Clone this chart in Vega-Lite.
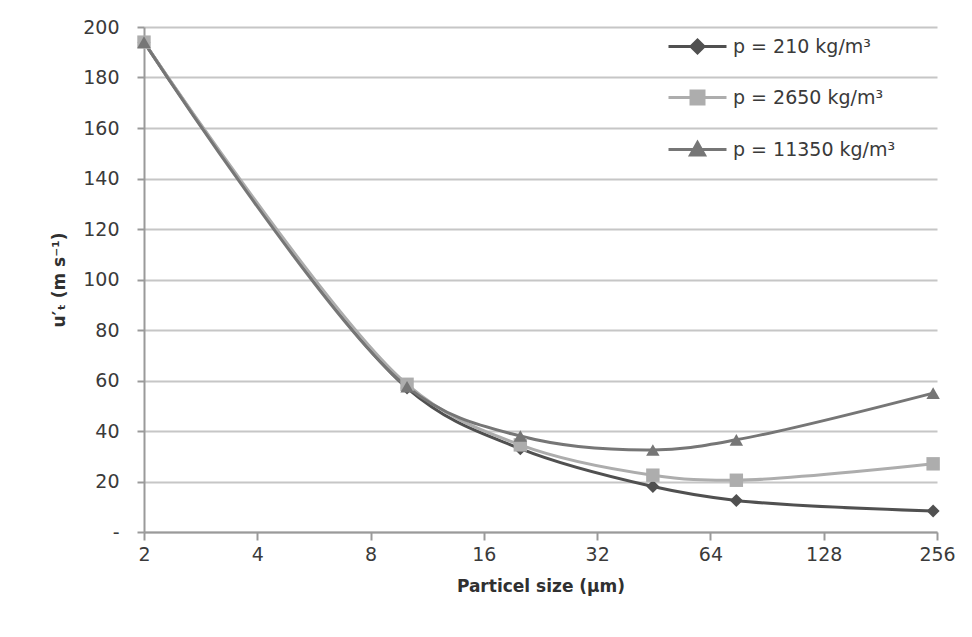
{
  "$schema": "https://vega.github.io/schema/vega-lite/v6.json",
  "width": 793,
  "height": 505,
  "autosize": {"type": "none"},
  "padding": {"left": 144, "top": 27, "right": 35, "bottom": 105},
  "background": "white",
  "config": {"view": {"stroke": null}, "font": "DejaVu Sans"},
  "data": {
    "values": [
      {"size": 2, "u": 194, "series": "p = 210 kg/m³"},
      {"size": 10, "u": 57, "series": "p = 210 kg/m³"},
      {"size": 20, "u": 33, "series": "p = 210 kg/m³"},
      {"size": 45, "u": 18, "series": "p = 210 kg/m³"},
      {"size": 75, "u": 12.5, "series": "p = 210 kg/m³"},
      {"size": 250, "u": 8.3, "series": "p = 210 kg/m³"},
      {"size": 2, "u": 194, "series": "p = 2650 kg/m³"},
      {"size": 10, "u": 58.5, "series": "p = 2650 kg/m³"},
      {"size": 20, "u": 34.5, "series": "p = 2650 kg/m³"},
      {"size": 45, "u": 22.5, "series": "p = 2650 kg/m³"},
      {"size": 75, "u": 20.5, "series": "p = 2650 kg/m³"},
      {"size": 250, "u": 27, "series": "p = 2650 kg/m³"},
      {"size": 2, "u": 194, "series": "p = 11350 kg/m³"},
      {"size": 10, "u": 57.5, "series": "p = 11350 kg/m³"},
      {"size": 20, "u": 38, "series": "p = 11350 kg/m³"},
      {"size": 45, "u": 32.5, "series": "p = 11350 kg/m³"},
      {"size": 75, "u": 36.5, "series": "p = 11350 kg/m³"},
      {"size": 250, "u": 55, "series": "p = 11350 kg/m³"}
    ]
  },
  "encoding": {
    "x": {
      "field": "size",
      "type": "quantitative",
      "scale": {"type": "log", "base": 2, "domain": [2, 256], "nice": false},
      "axis": {
        "title": "Particel size (µm)",
        "values": [2, 4, 8, 16, 32, 64, 128, 256],
        "grid": false,
        "labelFlush": false,
        "domainColor": "#9a9a9a",
        "domainWidth": 2,
        "tickColor": "#9a9a9a",
        "tickWidth": 2,
        "tickSize": 8,
        "labelPadding": 5,
        "labelFontSize": 19,
        "labelColor": "#3a3a3a",
        "titleFontSize": 17,
        "titleFontWeight": "bold",
        "titleColor": "#303030",
        "titlePadding": 14
      }
    },
    "y": {
      "field": "u",
      "type": "quantitative",
      "scale": {"domain": [0, 200], "nice": false},
      "axis": {
        "title": "u′ₜ (m s⁻¹)",
        "values": [0, 20, 40, 60, 80, 100, 120, 140, 160, 180, 200],
        "labelExpr": "datum.value == 0 ? '-' : datum.label",
        "grid": true,
        "gridColor": "#c6c6c6",
        "gridWidth": 2,
        "domainColor": "#9a9a9a",
        "domainWidth": 2,
        "tickColor": "#9a9a9a",
        "tickWidth": 2,
        "tickSize": 7,
        "labelPadding": 18,
        "labelFontSize": 19,
        "labelColor": "#3a3a3a",
        "titleFontSize": 17,
        "titleFontWeight": "bold",
        "titleColor": "#303030",
        "titlePadding": 14
      }
    },
    "color": {
      "field": "series",
      "type": "nominal",
      "sort": ["p = 210 kg/m³", "p = 2650 kg/m³", "p = 11350 kg/m³"],
      "scale": {
        "domain": ["p = 210 kg/m³", "p = 2650 kg/m³", "p = 11350 kg/m³"],
        "range": ["#505050", "#adadad", "#767676"]
      },
      "legend": {
        "title": null,
        "orient": "none",
        "legendX": 544,
        "legendY": 10,
        "direction": "vertical",
        "padding": 0,
        "symbolSize": 100,
        "symbolType": "M-5.8,0H5.8",
        "labelOffset": 26,
        "labelLimit": 400,
        "rowPadding": 26,
        "labelFontSize": 19,
        "labelColor": "#3a3a3a",
        "encode": {
          "symbols": {
            "update": {
              "shape": {"signal": "datum.value === 'p = 210 kg/m³' ? 'M-5.8,0H5.8M0,-1.3L1.3,0L0,1.3L-1.3,0Z' : datum.value === 'p = 2650 kg/m³' ? 'M-5.8,0H5.8M-1.3,-1.3H1.3V1.3H-1.3Z' : 'M-5.8,0H5.8M0,-1.4L1.4,1.1H-1.4Z'"},
              "stroke": {"signal": "scale('color', datum.value)"},
              "fill": {"signal": "scale('color', datum.value)"},
              "strokeWidth": {"value": 3},
              "opacity": {"value": 1},
              "fillOpacity": {"value": 1},
              "strokeOpacity": {"value": 1}
            }
          }
        }
      }
    }
  },
  "layer": [
    {
      "mark": {"type": "line", "interpolate": "catmull-rom", "strokeWidth": 3},
      "encoding": {}
    },
    {
      "transform": [{"filter": "datum.series === 'p = 210 kg/m³'"}],
      "mark": {"type": "point", "filled": true, "opacity": 1, "size": 170, "shape": "diamond"},
      "encoding": {}
    },
    {
      "transform": [{"filter": "datum.series === 'p = 2650 kg/m³'"}],
      "mark": {"type": "point", "filled": true, "opacity": 1, "size": 180, "shape": "square"},
      "encoding": {}
    },
    {
      "transform": [{"filter": "datum.series === 'p = 11350 kg/m³'"}],
      "mark": {"type": "point", "filled": true, "opacity": 1, "size": 180, "shape": "triangle-up"},
      "encoding": {}
    }
  ]
}
